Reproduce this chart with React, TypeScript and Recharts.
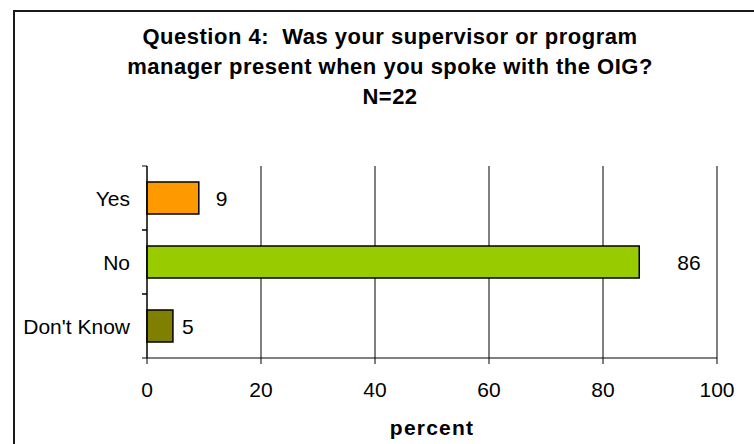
import React from 'react';
import { BarChart, Bar, XAxis, YAxis, CartesianGrid, Cell, LabelList, Label } from 'recharts';

const categories = ['Yes', 'No', "Don't Know"];
const percentValues = [9.09, 86.36, 4.55];
const valueLabels = ['9', '86', '5'];
const xTicks = [0, 20, 40, 60, 80, 100];
const titleLines = [
  'Question 4:  Was your supervisor or program',
  'manager present when you spoke with the OIG?',
  'N=22',
];
const axisTitle = 'percent';
const barColors = ['#FF9900', '#99CC00', '#808000'];
const labelGaps = [17, 38, 9];

const FONT = '"Liberation Sans", Arial, sans-serif';

const data = categories.map((c, i) => ({ category: c, value: percentValues[i], label: valueLabels[i] }));

const CatTick = (props: any) => {
  const { x, y, payload } = props;
  const half = payload && payload.offset ? payload.offset : 32;
  const axisX = x + 17;
  return (
    <g>
      <text x={x} y={y} textAnchor="end" dominantBaseline="central" fontSize={21} fontFamily={FONT} fill="#000">
        {payload.value}
      </text>
      <line x1={axisX - 5} x2={axisX} y1={y - half} y2={y - half} stroke="#000" strokeWidth={1} />
      <line x1={axisX - 5} x2={axisX} y1={y + half} y2={y + half} stroke="#000" strokeWidth={1} />
    </g>
  );
};

const renderValueLabel = (props: any) => {
  const { x, y, width, height, value, index } = props;
  const gap = labelGaps[index] ?? 10;
  return (
    <text
      x={Number(x) + Number(width) + gap}
      y={Number(y) + Number(height) / 2}
      dominantBaseline="central"
      fontSize={21}
      fontFamily={FONT}
      fill="#000"
    >
      {value}
    </text>
  );
};

export default function App() {
  return (
    <div
      style={{
        position: 'absolute',
        left: 0,
        top: 0,
        width: 754,
        height: 444,
        overflow: 'hidden',
        background: '#fff',
        fontFamily: FONT,
      }}
    >
      <div
        style={{
          position: 'absolute',
          left: 13,
          top: 10,
          width: 760,
          height: 460,
          borderLeft: '2px solid #1a1a1a',
          borderTop: '2px solid #1a1a1a',
          boxSizing: 'border-box',
        }}
      />
      <div
        style={{
          position: 'absolute',
          left: 13,
          top: 22,
          width: 754,
          textAlign: 'center',
          fontSize: 22,
          fontWeight: 'bold',
          lineHeight: '30px',
          whiteSpace: 'pre',
          letterSpacing: 0.5,
          color: '#000',
          fontFamily: FONT,
        }}
      >
        {titleLines.map((t, i) => (
          <div key={i}>{t}</div>
        ))}
      </div>
      <div style={{ position: 'absolute', left: 0, top: 0 }}>
        <BarChart
          width={754}
          height={444}
          data={data}
          layout="vertical"
          margin={{ top: 166, right: 37, bottom: 0, left: 0 }}
          barCategoryGap="25%"
          style={{ fontFamily: FONT }}
        >
          <CartesianGrid horizontal={false} vertical={true} stroke="#000" strokeWidth={1} />
          <XAxis
            type="number"
            domain={[0, 100]}
            ticks={xTicks}
            interval={0}
            tickSize={6}
            tickMargin={18}
            height={86}
            axisLine={{ stroke: '#000' }}
            tickLine={{ stroke: '#000' }}
            tick={{ fontSize: 21, fill: '#000', fontFamily: FONT }}
          >
            <Label
              value={axisTitle}
              position="insideBottom"
              offset={9}
              style={{ fontSize: 21, fontWeight: 'bold', letterSpacing: 1.2, fill: '#000', fontFamily: FONT }}
            />
          </XAxis>
          <YAxis
            type="category"
            dataKey="category"
            width={147}
            interval={0}
            tickSize={0}
            tickMargin={17}
            tickLine={false}
            axisLine={{ stroke: '#000' }}
            tick={<CatTick />}
          />
          <Bar dataKey="value" isAnimationActive={false} stroke="#000" strokeWidth={1.5}>
            {data.map((d, i) => (
              <Cell key={d.category} fill={barColors[i]} />
            ))}
            <LabelList dataKey="label" content={renderValueLabel} />
          </Bar>
        </BarChart>
      </div>
    </div>
  );
}
